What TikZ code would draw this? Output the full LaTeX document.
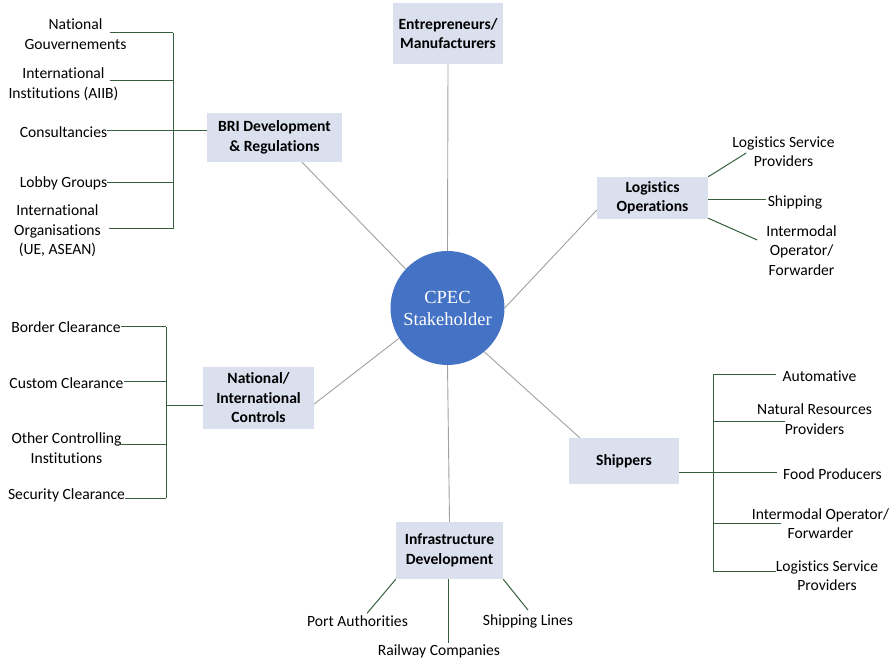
\documentclass[tikz,border=0pt]{standalone}
\usepackage{fontspec}
\setmainfont{Carlito}[Ligatures={NoCommon}]
\newfontfamily\circfont{Liberation Serif}
\definecolor{boxfill}{HTML}{DAE0EE}
\definecolor{cblue}{HTML}{4472C4}
\definecolor{lineg}{HTML}{375F3E}
\definecolor{lgray}{HTML}{A0A0A0}
\tikzset{
  lbl/.style={inner sep=0pt, align=center, font=\fontsize{15.6}{19.5}\selectfont},
  catbox/.style={fill=boxfill, draw=none, inner sep=0pt, align=center, font=\fontsize{15.6}{19.5}\selectfont\bfseries},
  gl/.style={draw=lineg, line width=1pt},
  gr/.style={draw=lgray, line width=0.9pt},
}
\begin{document}
\begin{tikzpicture}[x=1pt,y=1pt]
\useasboundingbox (0,0) rectangle (890,661);
% centre
\node[circle, fill=cblue, minimum size=114pt, inner sep=0pt, text=white, align=center,
      font=\circfont\fontsize{18.5}{22}\selectfont] (c) at (447.5,353) {CPEC\\Stakeholder};
% category boxes
\node[catbox, minimum width=110pt, minimum height=61pt] (ent) at (448,627.5) {Entrepreneurs/\\Manufacturers};
\node[catbox, minimum width=135pt, minimum height=49pt] (bri) at (274.5,523.5) {BRI Development\\\& Regulations};
\node[catbox, minimum width=111pt, minimum height=42pt] (lo) at (652.5,463) {Logistics\\Operations};
\node[catbox, minimum width=111pt, minimum height=62pt] (nic) at (258.5,263) {National/\\International\\Controls};
\node[catbox, minimum width=110pt, minimum height=46pt] (sh) at (624,200) {Shippers};
\node[catbox, minimum width=107pt, minimum height=57pt] (inf) at (449.5,110.5) {Infrastructure\\Development};
% gray spokes
\draw[gr] (ent.south) -- (c.north);
\draw[gr] (c.137) -- ([xshift=27.5pt]bri.south);
\draw[gr] (c.east) -- ([yshift=-12pt]lo.west);
\draw[gr] (c.212) -- ([yshift=-6pt]nic.east);
\draw[gr] (c.-50) -- ([xshift=11pt]sh.north west);
\draw[gr] (c.south) -- (inf.north);
% BRI cluster
\node[lbl] (ng) at (75.5,627) {National\\Gouvernements};
\node[lbl] (iia) at (63.5,577) {International\\Institutions (AIIB)};
\node[lbl] (con) at (63.5,529) {Consultancies};
\node[lbl] (lob) at (63.5,478) {Lobby Groups};
\node[lbl] (io) at (57.5,430) {International\\Organisations\\(UE, ASEAN)};
\coordinate (bt1) at (173,628);
\coordinate (bt2) at (173,432);
\draw[gl] (bt1) -- (bt2);
\draw[gl] ([shift={(-17,1)}]ng.east) -- (bt1);
\draw[gl] ([shift={(-9,3)}]iia.east) -| (bt1);
\draw[gl] ([yshift=1pt]con.east) -| (bt1);
\draw[gl] (lob.east) -| (bt1);
\draw[gl] ([shift={(8,2)}]io.east) -| (bt2);
\draw[gl] ([yshift=6.5pt]bri.west) -| (bt1);
% National/International controls cluster
\node[lbl] (bc) at (66,334) {Border Clearance};
\node[lbl] (cc) at (66.5,278) {Custom Clearance};
\node[lbl] (oci) at (66.5,213) {Other Controlling\\Institutions};
\node[lbl] (scl) at (66.5,166) {Security Clearance};
\coordinate (nt1) at (166,334);
\coordinate (nt2) at (166,163);
\draw[gl] (nt1) -- (nt2);
\draw[gl] (bc.east) -| (nt1);
\draw[gl] ([yshift=1pt]cc.east) -| (nt1);
\draw[gl] ([shift={(-4,3)}]oci.east) -| (nt1);
\draw[gl] ([yshift=-3pt]scl.east) -| (nt2);
\draw[gl] ([yshift=-8pt]nic.west) -| (nt1);
% Logistics cluster
\node[lbl] (lsp1) at (783.5,509.5) {Logistics Service\\Providers};
\node[lbl] (shp) at (795,459) {Shipping};
\node[lbl] (iof1) at (801.5,410.5) {Intermodal\\Operator/\\Forwarder};
\draw[gl] (lo.north east) -- ([shift={(14,-1.5)}]lsp1.west);
\draw[gl] ([yshift=-2pt]lo.east) -- ([shift={(-2,2)}]shp.west);
\draw[gl] ([yshift=1pt]lo.south east) -- ([shift={(-9,10.5)}]iof1.west);
% Shippers cluster
\node[lbl] (aut) at (819.5,285) {Automative};
\node[lbl] (nrp) at (814.5,242) {Natural Resources\\Providers};
\node[lbl] (fp) at (832.5,187) {Food Producers};
\node[lbl] (iof2) at (820.5,137.5) {Intermodal Operator/\\Forwarder};
\node[lbl] (lsp2) at (827,85.5) {Logistics Service\\Providers};
\coordinate (st1) at (713,286);
\coordinate (st2) at (713,90);
\draw[gl] (st1) -- (st2);
\draw[gl] ([shift={(-6,1)}]aut.west) -| (st1);
\draw[gl] ([shift={(28,-3)}]nrp.west) -| (st1);
\draw[gl] ([shift={(-6,1)}]fp.west) -| (st1);
\draw[gl] ([shift={(29,0.5)}]iof2.west) -| (st1);
\draw[gl] ([yshift=4.5pt]lsp2.west) -| (st2);
\draw[gl] ([yshift=-12pt]sh.east) -| (st1);
% Infrastructure cluster
\node[lbl] (pa) at (357.5,40) {Port Authorities};
\node[lbl] (rc) at (439,10) {Railway Companies};
\node[lbl] (sl) at (528,40) {Shipping Lines};
\draw[gl] (inf.south west) -- ([shift={(9.5,2)}]pa.north);
\draw[gl] ([xshift=-1.5pt]inf.south) -- ([shift={(9,1)}]rc.north);
\draw[gl] (inf.south east) -- ([yshift=4pt]sl.north);
\end{tikzpicture}
\end{document}
